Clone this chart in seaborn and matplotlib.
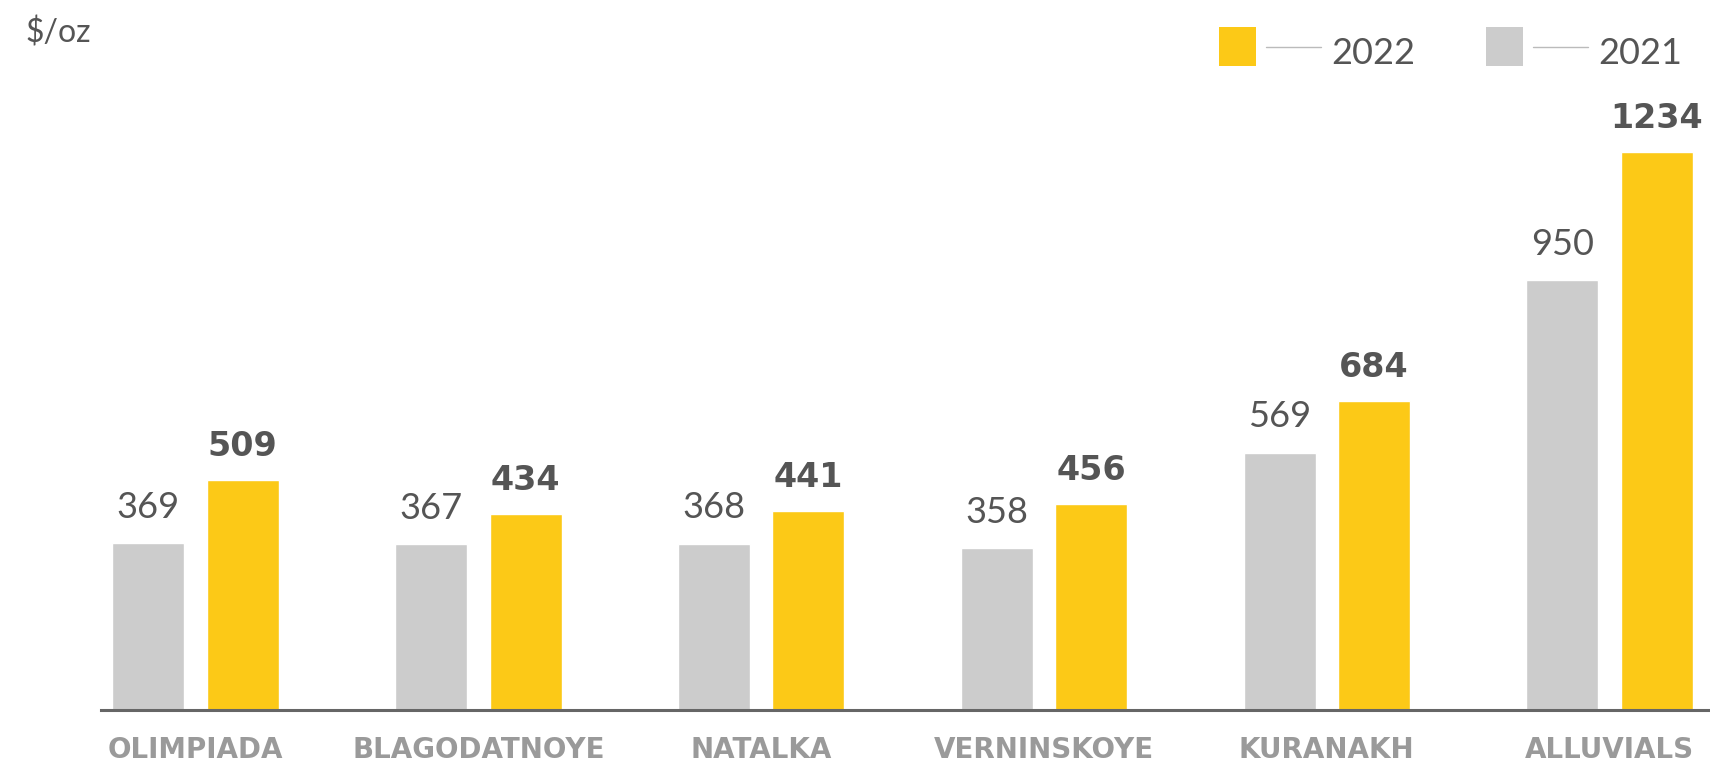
import seaborn as sns
import matplotlib.pyplot as plt
import pandas as pd
from matplotlib.patches import Rectangle
from matplotlib.lines import Line2D

# data ($/oz)
mines = ["OLIMPIADA", "BLAGODATNOYE", "NATALKA", "VERNINSKOYE", "KURANAKH", "ALLUVIALS"]
cost_2021 = [369, 367, 368, 358, 569, 950]
cost_2022 = [509, 434, 441, 456, 684, 1234]
years = ["2021", "2022"]

YELLOW = "#FCC917"
GREY = "#CCCCCC"
TXT = "#555555"
THIN = ["Lato", "DejaVu Sans"]

df = pd.DataFrame({
    "mine": mines * 2,
    "year": ["2021"] * len(mines) + ["2022"] * len(mines),
    "cost": cost_2021 + cost_2022,
})

sns.set_style("white")
plt.rcParams["font.family"] = ["DejaVu Sans"]

fig = plt.figure(figsize=(17.1, 7.63), dpi=100)
ax = fig.add_axes([101 / 1710, 1 - 710 / 763, 1 - 101 / 1710, 710 / 763])

sns.barplot(data=df, x="mine", y="cost", hue="year", hue_order=years,
            palette={"2021": GREY, "2022": YELLOW}, width=0.668, gap=0.238,
            saturation=1, legend=False, ax=ax)

ax.set_xlim(-0.334, 5.355)
ax.set_ylim(0, 1570)
ax.set_xlabel("")
ax.set_ylabel("")
ax.set_yticks([])
for s in ["top", "right", "left"]:
    ax.spines[s].set_visible(False)
ax.spines["bottom"].set_color("#666666")
ax.spines["bottom"].set_linewidth(2.2)
ax.tick_params(axis="x", length=0, pad=19)
for lbl in ax.get_xticklabels():
    lbl.set_fontweight("bold")
    lbl.set_fontsize(20)
    lbl.set_color("#9A9A9A")

# value labels
ax.bar_label(ax.containers[0], padding=14, fontsize=26, color=TXT,
             fontweight="normal", family=THIN)
ax.bar_label(ax.containers[1], padding=12, fontsize=24, color=TXT, fontweight="bold")

# unit
fig.text(25 / 1710, 1 - 42 / 763, "$/oz", fontsize=23, color=TXT, family=THIN)

# legend drawn by hand: square, thin line, year
def legend_item(x0, color, label):
    fig.patches.append(Rectangle((x0 / 1710, 1 - 66 / 763), 37 / 1710, 39 / 763,
                                 transform=fig.transFigure, color=color, lw=0))
    fig.lines.append(Line2D([(x0 + 47) / 1710, (x0 + 102) / 1710], [1 - 47 / 763] * 2,
                            transform=fig.transFigure, color="#BBBBBB", lw=1))
    fig.text((x0 + 112) / 1710, 1 - 64 / 763, label, fontsize=26, color=TXT,
             family=THIN)

legend_item(1219, YELLOW, "2022")
legend_item(1486, GREY, "2021")

plt.savefig("out.png", dpi=100)
